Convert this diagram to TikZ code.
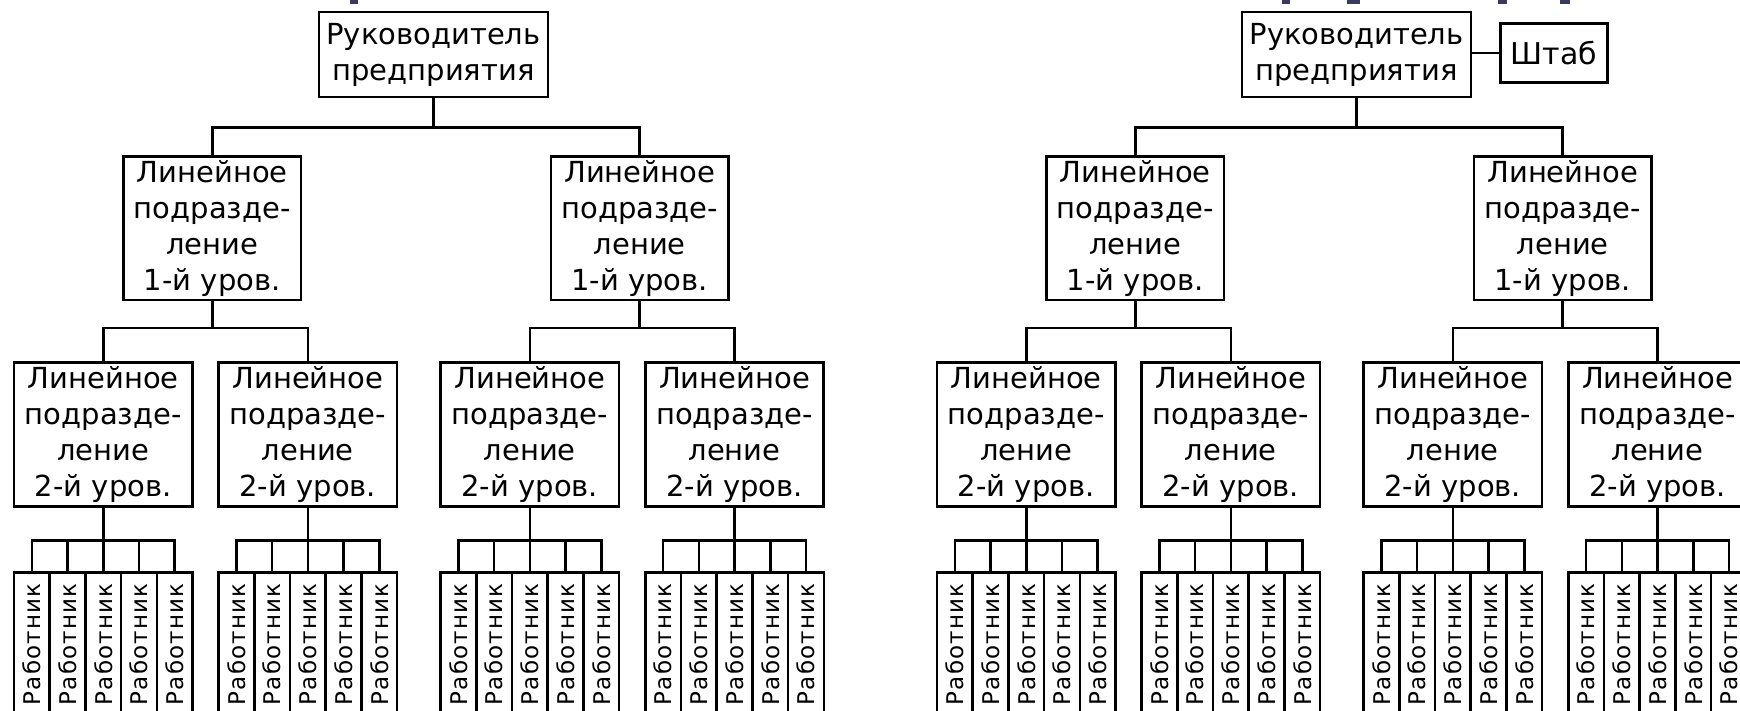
\documentclass[tikz,border=0pt]{standalone}
\usepackage{fontspec}
\setmainfont{DejaVu Sans}
\newfontfamily\wfont[LetterSpace=5]{DejaVu Sans}
\definecolor{titleblue}{RGB}{58,58,92}

\begin{document}
\begin{tikzpicture}[x=0.5pt, y=-0.5pt, line width=1.3pt,
        unit/.style={draw, rectangle, inner sep=0pt, align=center,
            font=\fontsize{14.5pt}{18pt}\selectfont},
        worker/.style={draw, rectangle, inner sep=0pt, anchor=north,
            minimum width=17.85pt, minimum height=72pt,
            font=\wfont\fontsize{11.5pt}{13pt}\selectfont}]
        \useasboundingbox (0,0) rectangle (1740,711);
        \clip (0,0) rectangle (1740,711);

        % cut-off title
        \fill[titleblue] (350,0) rectangle (358,4);
        \fill[titleblue] (1282,0) rectangle (1290,4);
        \fill[titleblue] (1347,0) rectangle (1360,4);
        \fill[titleblue] (1498,0) rectangle (1507,4);
        \fill[titleblue] (1560,0) rectangle (1570,4);

        \foreach \tr/\dx in {1/0, 2/923} {
        \begin{scope}[xshift=\dx*0.5pt]
            \node[unit, minimum width=114.5pt, minimum height=42.5pt] at (433.5, 54.5)(r\tr){Руководитель\\предприятия};
            \node[unit, minimum width=88.75pt, minimum height=71.75pt] at (212.25, 228.25)(u\tr1){Линейное\\подразде-\\ление\\1-й уров.};
            \node[unit, minimum width=88.75pt, minimum height=71.75pt] at (639.75, 228.25)(u\tr2){Линейное\\подразде-\\ление\\1-й уров.};

            \draw (r\tr.south) -- ++(0,29) -| (u\tr1.north);
            \draw (r\tr.south) -- ++(0,29) -| (u\tr2.north);

            \foreach \i/\cx/\p in {1/103.2/1, 2/307.8/1, 3/529.8/2, 4/734.5/2} {
                \node[unit, minimum width=89.2pt, minimum height=72pt] at (\cx, 434.7)(v\tr\i){Линейное\\подразде-\\ление\\2-й уров.};
                \draw (u\tr\p.south) -- ++(0,26.7) -| (v\tr\i.north);
                \foreach \j in {1,...,5} {
                    \node[worker] at (\cx-107.05+35.7*\j, 571)(w\tr\i\j){\rotatebox{90}{Работник}};
                    \draw (v\tr\i.south) -- ++(0,32.3) -| (w\tr\i\j.north);
                }
            }
        \end{scope}
        }

        \node[unit, minimum width=53.3pt, minimum height=29.7pt, font=\fontsize{15pt}{18pt}\selectfont] at (1554, 53)(shtab){Штаб};
        \draw (shtab.west) -- (shtab.west -| r2.east);
    \end{tikzpicture}
\end{document}
